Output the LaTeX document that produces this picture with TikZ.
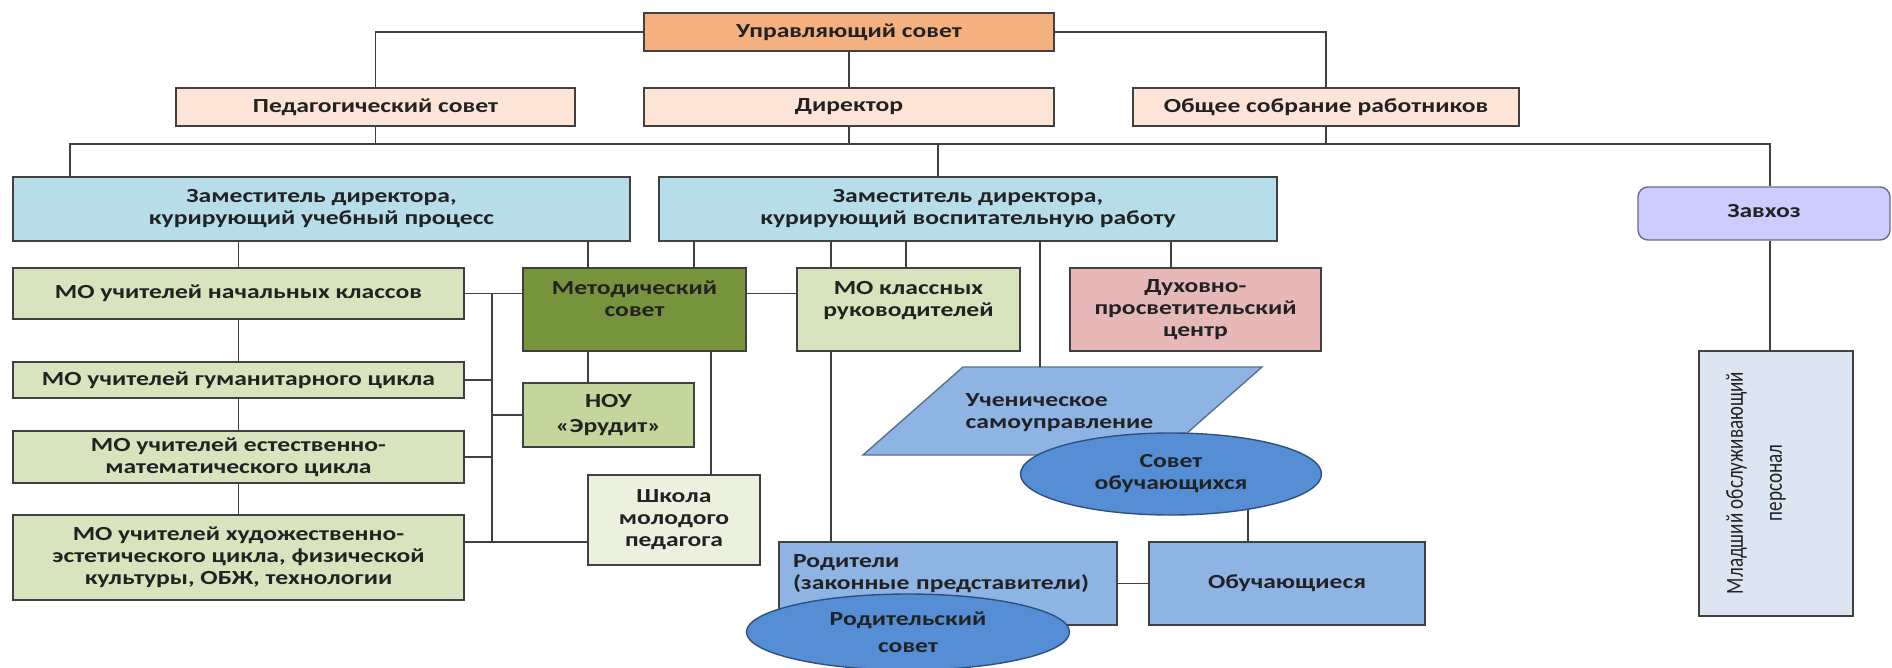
\documentclass[tikz,border=0pt]{standalone}
\usepackage{fontspec}
\setmainfont{Carlito}[FakeStretch=1.28]
\newfontfamily\mladfont{Carlito}[FakeStretch=0.78]
\usetikzlibrary{shapes.geometric}

\definecolor{upravfill}{HTML}{F5B07F}
\definecolor{peachfill}{HTML}{FCE4D6}
\definecolor{zamfill}{HTML}{B7DEE8}
\definecolor{zavfill}{HTML}{CCCCFF}
\definecolor{zavline}{HTML}{6B6B8F}
\definecolor{mofill}{HTML}{D7E4BD}
\definecolor{metodfill}{HTML}{77933C}
\definecolor{noufill}{HTML}{C3D69B}
\definecolor{shkfill}{HTML}{EBF1DE}
\definecolor{duhfill}{HTML}{E6B9B8}
\definecolor{uchfill}{HTML}{8EB4E3}
\definecolor{uchline}{HTML}{5A6F8F}
\definecolor{ellfill}{HTML}{558ED5}
\definecolor{ellline}{HTML}{2F4F7F}
\definecolor{mladfill}{HTML}{DCE6F2}
\definecolor{linecol}{HTML}{404040}
\definecolor{txtcol}{HTML}{222222}

\begin{document}
\begin{tikzpicture}[x=1pt, y=-1pt,
    box/.style={draw=linecol, line width=1.4pt, align=center, inner sep=2pt, text=txtcol,
        font=\bfseries\fontsize{20}{22}\selectfont},
    conn/.style={draw=linecol, line width=1.6pt}]
        \useasboundingbox (0, 0) rectangle (1892, 667);

        % top level
        \node [box, fill=upravfill, minimum width=410pt, minimum height=38pt] (uprav) at (849, 32) {Управляющий совет};
        \node [box, fill=peachfill, minimum width=399pt, minimum height=38pt] (pedsovet) at (375.5, 107) {Педагогический совет};
        \node [box, fill=peachfill, minimum width=410pt, minimum height=38pt] (direktor) at (849, 107) {Директор};
        \node [box, fill=peachfill, minimum width=386pt, minimum height=38pt] (sobranie) at (1326, 107) {Общее собрание работников};

        % deputies
        \node [box, fill=zamfill, minimum width=617pt, minimum height=64pt] (zamuch) at (321.5, 209) {Заместитель директора,\\курирующий учебный процесс};
        \node [box, fill=zamfill, minimum width=618pt, minimum height=64pt] (zamvosp) at (968, 209) {Заместитель директора,\\курирующий воспитательную работу};
        \node [box, fill=zavfill, draw=zavline, rounded corners=10pt, minimum width=252pt, minimum height=53pt] (zavhoz) at (1764, 213.5) {\raisebox{6pt}{Завхоз}};

        % methodical units
        \node [box, fill=mofill, minimum width=451pt, minimum height=51pt] (mo1) at (238.5, 293.5) {МО учителей начальных классов};
        \node [box, fill=mofill, minimum width=451pt, minimum height=36pt] (mo2) at (238.5, 380) {МО учителей гуманитарного цикла};
        \node [box, fill=mofill, minimum width=451pt, minimum height=52pt] (mo3) at (238.5, 457) {МО учителей естественно-\\математического цикла};
        \node [box, fill=mofill, minimum width=451pt, minimum height=85pt] (mo4) at (238.5, 557.5) {МО учителей художественно-\\эстетического цикла, физической\\культуры, ОБЖ, технологии};
        \node [box, fill=metodfill, minimum width=223pt, minimum height=83pt] (metod) at (634.5, 309.5) {Методический\\совет\\~};
        \node [box, fill=noufill, minimum width=171pt, minimum height=64pt] (nou) at (608.5, 415) {НОУ\\[3pt]«Эрудит»};
        \node [box, fill=shkfill, minimum width=172pt, minimum height=90pt] (shkola) at (674, 520) {Школа\\молодого\\педагога};
        \node [box, fill=mofill, minimum width=223pt, minimum height=83pt] (moklass) at (908.5, 309.5) {МО классных\\руководителей\\~};
        \node [box, fill=duhfill, minimum width=251pt, minimum height=83pt] (duh) at (1195.5, 309.5) {Духовно-\\просветительский\\центр};

        % students and parents
        \draw [draw=uchline, line width=1.4pt, fill=uchfill] (963, 367) -- (1262, 367) -- (1162, 455) -- (863, 455) -- cycle;
        \coordinate (uchtop) at (1040, 367);
        \node [box, draw=none, align=left, anchor=west] (uchsam) at (963, 413) {Ученическое\\самоуправление};
        \node [box, ellipse, fill=ellfill, draw=ellline, minimum width=301pt, minimum height=82pt] (sovobuch) at (1171, 474) {Совет\\обучающихся};
        \node [box, fill=uchfill, align=left, inner xsep=14pt, text width=310pt, minimum height=83pt] (roditeli) at (948, 583.5) {Родители\\(законные представители)\\~};
        \node [box, fill=uchfill, minimum width=276pt, minimum height=83pt] (obuch) at (1287, 583.5) {Обучающиеся};
        \node [box, ellipse, fill=ellfill, draw=ellline, minimum width=323pt, minimum height=76pt] (rodsovet) at (908, 632) {Родительский\\[5pt]совет};

        % staff
        \node [draw=linecol, line width=1.4pt, fill=mladfill, minimum width=154pt, minimum height=265pt] (mlad) at (1776, 483.5) {};
        \node [rotate=90, align=center, text=txtcol, font=\mladfont\fontsize{24.5}{27}\selectfont] (mladtext) at (1756, 483) {Младший обслуживающий\\[12pt]персонал};

        % connectors
        \coordinate (busl) at (70, 144);
        \coordinate (busr) at (1770, 144);
        \draw [conn] (uprav.west) -| (pedsovet.north);
        \draw [conn] (uprav.east) -| (sobranie.north);
        \draw [conn] (uprav) -- (direktor);
        \draw [conn] (busl |- zamuch.north) -- (busl) -- (busr) -- (busr |- zavhoz.north);
        \draw [conn] (pedsovet.south) -- (pedsovet.south |- busl);
        \draw [conn] (direktor.south) -- (direktor.south |- busl);
        \draw [conn] (sobranie.south) -- (sobranie.south |- busl);
        \draw [conn] (938, 0 |- busl) -- (938, 0 |- zamvosp.north);
        \draw [conn] (busr |- zavhoz.south) -- (busr |- mlad.north);

        \draw [conn] (mo1.north) -- (mo1.north |- zamuch.south);
        \draw [conn] (588, 0 |- zamuch.south) -- (588, 0 |- metod.north);
        \draw [conn] (694, 0 |- zamvosp.south) -- (694, 0 |- metod.north);
        \draw [conn] (831, 0 |- zamvosp.south) -- (831, 0 |- moklass.north);
        \draw [conn] (906, 0 |- zamvosp.south) -- (906, 0 |- moklass.north);
        \draw [conn] (1040, 0 |- zamvosp.south) -- (uchtop);
        \draw [conn] (1171, 0 |- zamvosp.south) -- (1171, 0 |- duh.north);

        \draw [conn] (mo1) -- (mo2);
        \draw [conn] (mo2) -- (mo3);
        \draw [conn] (mo3) -- (mo4);
        \coordinate (lbus) at (492, 542);
        \draw [conn] (mo1.east) -- (metod.west |- mo1.east);
        \draw [conn] (metod.east |- mo1.east) -- (moklass.west |- mo1.east);
        \draw [conn] (lbus |- mo1.east) -- (lbus);
        \draw [conn] (mo2.east) -- (mo2.east -| lbus);
        \draw [conn] (nou.west) -- (nou.west -| lbus);
        \draw [conn] (mo3.east) -- (mo3.east -| lbus);
        \draw [conn] (lbus -| mo4.east) -- (lbus -| shkola.west);
        \draw [conn] (588, 0 |- metod.south) -- (588, 0 |- nou.north);
        \draw [conn] (711, 0 |- metod.south) -- (711, 0 |- shkola.north);

        \draw [conn] (831, 0 |- moklass.south) -- (831, 0 |- roditeli.north);
        \draw [conn] (sovobuch.-25) -- (sovobuch.-25 |- obuch.north);
        \draw [conn] (roditeli.east) -- (obuch.west);
    \end{tikzpicture}
\end{document}
